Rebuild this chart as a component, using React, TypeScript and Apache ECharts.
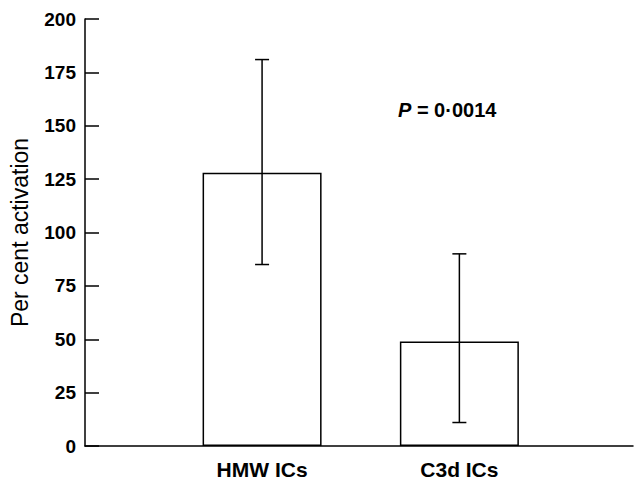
import React, { useEffect, useRef } from "react";
import * as echarts from "echarts";

const categories = ["HMW ICs", "C3d ICs"];
const meanValues = [128, 49];
const errorLow = [85, 11];
const errorHigh = [181, 90];
const yAxisName = "Per cent activation";
const pLabel = "P";
const pValue = "0·0014";

const FONT = "'Liberation Sans', Arial, Helvetica, sans-serif";

export default function App() {
  const ref = useRef<HTMLDivElement>(null);

  useEffect(() => {
    if (!ref.current) return;
    const chart = echarts.init(ref.current, null, { renderer: "svg" });
    const positions = categories.map((_, i) => i + 1);
    const barData = positions.map((p, i) => [p, meanValues[i]]);
    const errData = positions.map((p, i) => [p, errorLow[i], errorHigh[i]]);

    chart.setOption({
      animation: false,
      backgroundColor: "#fff",
      grid: { left: 83, right: 1, top: 19, bottom: 31, containLabel: false },
      xAxis: {
        type: "value",
        min: 0.1025,
        max: 2.88,
        splitLine: { show: false },
        axisTick: { show: false },
        axisLine: { show: true, onZero: false, lineStyle: { color: "#000", width: 1.5 } },
        axisLabel: {
          customValues: positions,
          formatter: (v: number) => categories[Math.round(v) - 1] ?? "",
          color: "#000",
          fontFamily: FONT,
          fontWeight: "bold",
          fontSize: 21,
          margin: 13,
        },
      },
      yAxis: {
        type: "value",
        min: 0,
        max: 200,
        interval: 25,
        name: yAxisName,
        nameLocation: "middle",
        nameGap: 54,
        nameTextStyle: { color: "#000", fontFamily: FONT, fontSize: 23 },
        splitLine: { show: false },
        axisLine: { show: true, lineStyle: { color: "#000", width: 1.5 } },
        axisTick: { show: true, inside: true, length: 14, lineStyle: { color: "#000", width: 1.5 } },
        axisLabel: {
          color: "#000",
          fontFamily: FONT,
          fontWeight: "bold",
          fontSize: 19,
          margin: 9,
        },
      },
      graphic: [
        {
          type: "text",
          left: 398,
          top: 100,
          style: {
            text: `{i|${pLabel}} = ${pValue}`,
            fill: "#000",
            fontFamily: FONT,
            fontWeight: "bold",
            fontSize: 20,
            rich: {
              i: { fontStyle: "italic", fontWeight: "bold", fontFamily: FONT, fontSize: 20, fill: "#000" },
            },
          },
        },
      ],
      series: [
        {
          type: "bar",
          data: barData,
          barWidth: 119,
          itemStyle: { color: "#fff", borderColor: "#000", borderWidth: 1.5 },
          z: 2,
        },
        {
          type: "custom",
          data: errData,
          encode: { x: 0, y: [1, 2] },
          z: 3,
          renderItem: (params: any, api: any) => {
            const x = api.value(0);
            const lo = api.coord([x, api.value(1)]);
            const hi = api.coord([x, api.value(2)]);
            const half = 7;
            const style = { stroke: "#000", lineWidth: 1.5 };
            return {
              type: "group",
              children: [
                { type: "line", shape: { x1: lo[0], y1: lo[1], x2: hi[0], y2: hi[1] }, style },
                { type: "line", shape: { x1: hi[0] - half, y1: hi[1], x2: hi[0] + half, y2: hi[1] }, style },
                { type: "line", shape: { x1: lo[0] - half, y1: lo[1], x2: lo[0] + half, y2: lo[1] }, style },
              ],
            };
          },
        },
      ],
    });

    return () => chart.dispose();
  }, []);

  return (
    <div
      ref={ref}
      style={{ position: "fixed", left: 0, top: 0, width: 634, height: 480, background: "#fff" }}
    />
  );
}
